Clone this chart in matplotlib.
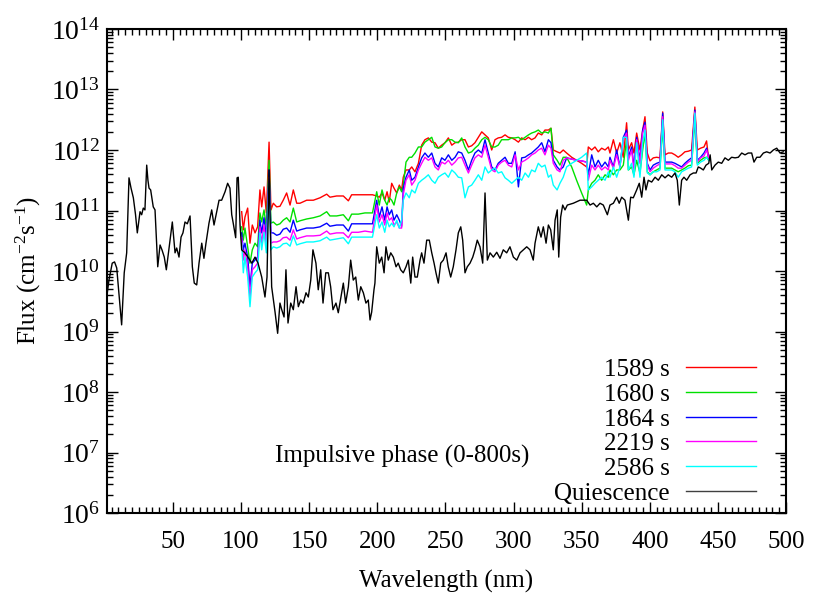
import numpy as np
import matplotlib
matplotlib.use('Agg')
import matplotlib.pyplot as plt
from matplotlib.ticker import MultipleLocator, FixedLocator, NullFormatter

plt.rcParams['font.family'] = ['Liberation Serif', 'DejaVu Serif']
plt.rcParams['mathtext.fontset'] = 'custom'
plt.rcParams['mathtext.rm'] = 'Liberation Serif'
plt.rcParams['mathtext.it'] = 'Liberation Serif:italic'

# quiescent spectrum: wavelength (nm) and log10 flux
quiet_nm = [1.65, 3.1, 5.5, 7.2, 8.8, 10.5, 12.4, 14.3, 16.1, 17.8, 19.3, 21.0, 22.6, 23.9, 25.9,
            27.1, 28.3, 29.5, 30.8, 31.7, 32.5, 33.7, 35.6, 36.9, 38.9, 40.6, 42.0, 43.7, 45.2, 47.2,
            49.6, 51.6, 52.8, 54.5, 56.0, 57.4, 58.9, 60.6, 62.6, 64.3, 65.7, 67.5, 69.2, 71.2, 72.8,
            74.3, 76.5, 78.5, 80.2, 82.2, 83.9, 85.8, 88.3, 90.2, 91.9, 93.2, 94.3, 96.1, 97.1, 98.0,
            99.3, 100.5, 102.9, 105.1, 107.9, 110.3, 112.5, 115.2, 117.6, 119.1, 120.6, 122.5, 125.0,
            126.9, 128.6, 129.9, 131.6, 133.0, 134.5, 136.5, 138.4, 140.4, 142.1, 143.8, 145.7, 147.7,
            149.4, 151.2, 152.8, 155.0, 156.7, 158.5, 160.2, 162.2, 164.1, 165.8, 167.5, 169.7, 171.4,
            173.4, 175.1, 176.8, 178.8, 180.5, 182.4, 184.2, 186.1, 187.9, 189.8, 191.7, 193.4, 194.7,
            195.9, 197.6, 198.3, 199.6, 201.5, 203.3, 205.0, 206.4, 208.1, 209.9, 211.8, 213.8, 215.4,
            217.2, 219.1, 221.1, 222.8, 224.6, 226.0, 227.7, 229.4, 231.4, 232.6, 234.3, 236.3, 238.2,
            240.0, 241.7, 243.1, 244.8, 246.6, 248.5, 250.5, 252.1, 253.9, 255.8, 257.8, 259.5, 261.3,
            262.7, 264.4, 266.1, 268.1, 270.1, 271.7, 273.4, 275.4, 277.4, 279.1, 280.8, 282.8, 285.2,
            287.7, 290.1, 292.5, 295.0, 297.4, 299.9, 302.4, 304.8, 307.2, 309.7, 312.1, 314.5, 315.8,
            318.2, 320.2, 321.9, 323.9, 325.6, 327.3, 329.2, 330.5, 332.1, 333.2, 334.6, 336.1, 337.8,
            339.5, 343.9, 348.8, 353.7, 356.2, 358.6, 361.1, 363.5, 365.9, 368.9, 370.8, 373.3, 375.7,
            377.6, 379.4, 381.8, 384.3, 386.0, 387.9, 390.4, 392.3, 394.1, 395.8, 397.2, 398.9, 401.4,
            403.9, 406.3, 408.8, 411.2, 413.6, 416.1, 418.5, 420.2, 421.7, 423.4, 425.1, 427.1, 429.6,
            432.0, 434.0, 435.6, 437.4, 439.3, 441.3, 443.3, 444.3, 445.5, 447.9, 450.3, 452.8, 455.2,
            457.7, 460.1, 462.6, 465.0, 467.5, 469.9, 472.3, 474.8, 476.5, 478.5, 480.9, 483.4, 485.8,
            488.3, 490.7, 493.2, 495.6, 498.0]
quiet_log = [9.60, 9.85, 10.13, 10.15, 10.05, 9.60, 9.11, 9.97, 10.30, 11.54, 11.37, 11.21, 10.93, 10.63, 10.98,
             10.93, 11.04, 11.01, 11.75, 11.50, 11.37, 11.34, 11.06, 11.01, 10.07, 10.43, 10.35, 10.23, 10.02, 10.38,
             10.81, 10.30, 10.38, 10.23, 10.56, 10.63, 10.81, 10.78, 10.91, 10.07, 9.80, 9.77, 10.13, 10.46, 10.21,
             10.46, 10.79, 11.01, 10.76, 10.98, 11.17, 11.17, 11.31, 11.45, 11.37, 10.93, 10.79, 10.55, 11.54, 11.55,
             10.76, 10.35, 10.30, 10.23, 10.13, 10.23, 10.13, 9.90, 9.57, 9.90, 11.67, 9.74, 9.32,
             8.97, 9.47, 9.36, 9.24, 10.02, 9.14, 9.47, 9.36, 9.74, 9.41, 9.52, 9.47, 9.64,
             9.57, 9.85, 10.35, 10.13, 9.69, 10.02, 9.47, 9.97, 9.97, 9.74, 9.36, 9.47, 9.31,
             9.57, 9.80, 9.47, 9.74, 10.18, 9.85, 9.90, 9.52, 9.74, 9.64, 9.47, 9.52, 9.19,
             9.32, 9.69, 9.80, 10.40, 10.13, 10.23, 9.97, 10.40, 10.18, 10.30, 10.23, 10.07, 10.13,
             10.02, 9.97, 10.07, 10.18, 9.80, 10.23, 9.90, 9.90, 10.18, 10.30, 10.13, 10.51, 10.51,
             10.30, 10.13, 9.97, 9.80, 10.13, 10.18, 10.30, 10.07, 9.90, 10.07, 10.35, 10.63, 10.73,
             10.51, 9.97, 10.07, 10.13, 10.23, 10.35, 10.51, 10.40, 10.13, 11.29, 10.18, 10.30, 10.23,
             10.31, 10.21, 10.35, 10.30, 10.40, 10.23, 10.18, 10.30, 10.35, 10.40, 10.35, 10.18, 10.46,
             10.73, 10.56, 10.73, 10.46, 10.76, 10.68, 10.35, 10.84, 11.01, 10.23, 10.89, 11.09, 11.01,
             11.09, 11.12, 11.17, 11.17, 11.09, 11.12, 11.06, 11.12, 11.09, 10.93, 11.09, 11.12, 11.22,
             11.12, 11.22, 11.17, 10.84, 11.22, 11.21, 11.34, 11.45, 11.22, 11.55, 11.34, 11.50, 11.47,
             11.55, 11.50, 11.59, 11.54, 11.59, 11.55, 11.62, 11.50, 11.09, 11.50, 11.55, 11.50, 11.59,
             11.62, 11.62, 11.72, 11.70, 11.67, 11.75, 11.78, 11.92, 11.67, 11.75, 11.80, 11.78, 11.87,
             11.83, 11.88, 11.87, 11.88, 11.95, 11.92, 11.95, 11.95, 11.80, 11.88, 11.88, 11.95, 11.97,
             11.95, 12.00, 12.03, 11.95, 11.97]

# flare spectra share one wavelength grid (nm), values are log10 flux
flare_nm = [100.5, 101.7, 102.9, 104.9, 106.6, 108.3, 110.3, 112.2, 113.9, 115.2, 116.9, 118.6, 120.6,
            122.0, 123.7, 126.2, 128.6, 131.0, 133.5, 136.0, 138.4, 140.9, 143.3, 148.2, 153.1, 158.0,
            162.9, 165.3, 170.2, 175.1, 178.8, 181.2, 186.1, 191.0, 196.5,
            199.6, 201.5, 203.5, 205.5, 207.2, 208.8, 210.6, 212.3, 214.3, 216.2, 217.9, 219.1, 221.1,
            223.5, 225.3, 227.7, 230.2, 232.6, 235.0, 237.5, 240.0, 242.4, 244.8, 247.3, 249.7, 252.2,
            254.7, 257.1, 259.5, 262.0, 264.4, 266.9, 269.3, 271.7, 274.2, 276.7, 279.1, 281.5, 284.0,
            286.4, 288.8, 291.3, 293.8, 296.2, 298.7, 301.2, 303.6, 306.0, 308.5, 311.0, 313.3, 315.8,
            318.2, 320.7, 323.1, 325.6, 327.5, 329.2, 332.0, 334.1, 336.5, 339.0, 342.7, 346.3, 350.0,
            353.7, 354.9, 357.4, 359.8, 362.2, 364.7, 367.2, 369.6, 370.8, 373.3, 375.7, 378.1, 380.6,
            383.0, 384.3, 386.7, 388.4, 390.4, 392.8, 394.8, 396.5, 398.2, 400.2, 402.6, 405.1, 407.5,
            409.5, 411.2, 413.6, 416.1, 418.5, 420.9, 423.4, 425.8, 428.3, 430.7, 433.1, 434.9, 437.3,
            439.8, 441.7, 443.3]

log_1589 = [10.98, 10.68, 10.89, 11.04, 10.46, 10.76, 10.63, 10.73, 11.34, 11.06, 11.39, 10.96, 12.13,
            11.01, 11.12, 11.06, 11.07, 11.17, 11.29, 11.09, 11.34, 11.12, 11.12, 11.17, 11.17, 11.21,
            11.27, 11.22, 11.24, 11.24, 11.16, 11.26, 11.26, 11.26, 11.26,
            11.24, 11.22, 11.29, 11.17, 11.31, 11.14, 11.45, 11.37, 11.29, 11.42, 11.34, 11.55, 11.67,
            11.67, 11.72, 11.64, 11.78, 12.08, 12.17, 12.20, 12.13, 12.12, 12.03, 12.08, 12.12, 12.20,
            12.08, 12.12, 12.13, 12.17, 12.17, 12.05, 12.07, 12.12, 12.21, 12.30, 12.25, 12.20, 12.00,
            12.17, 12.20, 12.21, 12.25, 12.21, 12.20, 12.17, 12.13, 12.20, 12.17, 12.21, 12.17, 12.20,
            12.28, 12.25, 12.33, 12.33, 12.36, 12.00, 11.97, 11.95, 12.00, 11.95, 11.88, 11.83, 11.78,
            11.72, 12.05, 12.00, 12.05, 11.97, 12.03, 12.00, 12.05, 11.95, 12.17, 11.95, 12.12, 11.88,
            12.45, 12.00, 12.12, 11.95, 12.28, 12.00, 12.33, 12.55, 11.95, 11.82, 11.87, 11.88, 11.87,
            12.63, 11.92, 11.95, 11.95, 11.92, 11.88, 11.92, 11.97, 11.98, 12.00, 12.71, 12.00, 12.03,
            12.05, 12.15, 11.83]

log_1680 = [10.73, 10.51, 10.71, 10.40, 10.13, 10.35, 10.46, 10.40, 10.96, 10.81, 11.01, 10.73, 11.83,
            10.79, 10.81, 10.76, 10.78, 10.84, 10.88, 10.81, 11.04, 10.81, 10.83, 10.86, 10.88, 10.91,
            10.98, 10.91, 10.91, 10.93, 10.83, 10.94, 10.94, 10.96, 10.96,
            11.31, 11.09, 11.34, 11.17, 11.09, 11.21, 11.17, 11.09, 11.29, 11.39, 11.31, 11.42, 11.80,
            11.88, 11.88, 11.95, 12.05, 12.05, 12.13, 12.17, 12.21, 12.05, 12.03, 12.05, 12.12, 12.17,
            12.17, 12.13, 12.12, 12.20, 12.05, 11.95, 11.97, 12.03, 12.08, 12.17, 12.21, 12.17, 12.05,
            12.05, 12.08, 12.17, 12.17, 12.17, 12.20, 12.20, 12.21, 12.17, 12.21, 12.25, 12.28, 12.30,
            12.33, 12.28, 12.30, 12.28, 12.36, 11.92, 11.83, 11.75, 11.88, 11.88, 11.72, 11.50, 11.29,
            11.09, 11.34, 11.45, 11.50, 11.59, 11.50, 11.59, 11.55, 11.67, 11.59, 11.67, 11.67, 11.75,
            12.17, 11.67, 11.72, 11.59, 11.83, 11.62, 12.00, 12.28, 11.64, 11.59, 11.64, 11.67, 11.70,
            12.38, 11.70, 11.70, 11.70, 11.67, 11.64, 11.67, 11.70, 11.74, 11.75, 12.50, 11.78, 11.83,
            11.87, 11.88, 11.83]

log_1864 = [10.63, 10.35, 10.46, 10.23, 9.74, 10.13, 10.18, 10.23, 10.84, 10.63, 10.88, 10.56, 11.67,
            10.63, 10.63, 10.59, 10.61, 10.69, 10.71, 10.64, 10.84, 10.66, 10.68, 10.71, 10.71, 10.73,
            10.79, 10.74, 10.76, 10.76, 10.66, 10.78, 10.78, 10.78, 10.78,
            11.17, 10.89, 11.06, 10.84, 11.06, 10.93, 11.01, 10.84, 10.93, 10.84, 10.74, 11.37, 11.55,
            11.67, 11.50, 11.55, 11.72, 11.87, 11.95, 11.88, 11.95, 11.78, 11.72, 11.87, 11.83, 11.92,
            11.83, 11.88, 11.97, 11.95, 11.83, 11.67, 11.83, 11.95, 12.00, 11.95, 12.17, 11.95, 11.72,
            11.67, 11.78, 11.83, 11.88, 11.78, 11.78, 11.97, 11.39, 11.87, 11.88, 11.92, 11.95, 12.00,
            12.05, 12.12, 11.97, 12.17, 12.12, 11.83, 11.72, 11.67, 11.72, 11.87, 11.85, 11.83, 11.82,
            11.80, 11.59, 11.92, 11.72, 11.83, 11.72, 11.80, 11.72, 11.88, 11.72, 12.00, 11.72, 12.21,
            12.33, 11.88, 12.05, 11.72, 12.21, 11.83, 12.33, 12.46, 11.78, 11.67, 11.75, 11.78, 11.80,
            12.61, 11.80, 11.80, 11.80, 11.78, 11.75, 11.72, 11.78, 11.83, 11.87, 12.66, 11.83, 11.88,
            11.95, 12.03, 11.87]

log_2219 = [10.55, 10.18, 10.35, 10.07, 9.57, 10.02, 10.07, 10.13, 10.73, 10.46, 10.76, 10.40, 11.55,
            10.46, 10.48, 10.48, 10.50, 10.55, 10.56, 10.51, 10.68, 10.53, 10.55, 10.58, 10.58, 10.59,
            10.66, 10.61, 10.63, 10.63, 10.55, 10.64, 10.64, 10.66, 10.64,
            11.09, 10.81, 10.93, 10.76, 10.96, 10.84, 10.88, 10.76, 10.81, 10.71, 10.71, 11.26, 11.50,
            11.59, 11.42, 11.50, 11.67, 11.78, 11.88, 11.83, 11.87, 11.72, 11.67, 11.80, 11.77, 11.83,
            11.75, 11.80, 11.87, 11.88, 11.75, 11.62, 11.75, 11.87, 11.92, 11.88, 12.08, 11.88, 11.67,
            11.64, 11.75, 11.80, 11.83, 11.75, 11.72, 11.92, 11.67, 11.80, 11.83, 11.87, 11.92, 11.95,
            12.00, 12.03, 11.92, 12.08, 12.03, 11.78, 11.67, 11.64, 11.83, 11.87, 11.85, 11.83, 11.82,
            11.80, 11.50, 11.75, 11.67, 11.75, 11.67, 11.72, 11.67, 11.83, 11.70, 11.92, 11.72, 12.17,
            12.28, 11.83, 12.00, 11.67, 12.17, 11.78, 12.28, 12.41, 11.75, 11.64, 11.70, 11.74, 11.77,
            12.55, 11.77, 11.77, 11.77, 11.74, 11.70, 11.70, 11.75, 11.80, 11.83, 12.63, 11.80, 11.87,
            11.90, 12.00, 11.87]

log_2586 = [10.46, 9.97, 10.23, 9.90, 9.41, 9.90, 9.97, 10.02, 10.63, 10.35, 10.64, 10.30, 11.45,
            10.35, 10.40, 10.38, 10.40, 10.45, 10.46, 10.41, 10.58, 10.43, 10.45, 10.48, 10.48, 10.50,
            10.56, 10.51, 10.53, 10.55, 10.45, 10.56, 10.56, 10.56, 10.56,
            10.93, 10.71, 10.81, 10.64, 10.84, 10.73, 10.79, 10.73, 10.84, 10.71, 10.84, 11.17, 11.29,
            11.21, 11.34, 11.29, 11.45, 11.50, 11.54, 11.59, 11.50, 11.45, 11.55, 11.59, 11.62, 11.55,
            11.67, 11.62, 11.55, 11.54, 11.21, 11.39, 11.42, 11.50, 11.59, 11.50, 11.72, 11.62, 11.67,
            11.70, 11.62, 11.64, 11.54, 11.50, 11.45, 11.50, 11.55, 11.50, 11.62, 11.55, 11.67, 11.64,
            11.78, 11.72, 11.75, 11.55, 11.59, 11.42, 11.34, 11.45, 11.55, 11.72, 11.78, 11.83, 11.88,
            11.95, 11.34, 11.39, 11.45, 11.50, 11.55, 11.50, 11.64, 11.55, 11.72, 11.55, 11.72, 12.21,
            12.21, 11.67, 11.78, 11.55, 12.12, 11.55, 12.12, 12.33, 11.62, 11.59, 11.64, 11.64, 11.67,
            12.50, 11.67, 11.67, 11.67, 11.64, 11.55, 11.64, 11.67, 11.70, 11.72, 12.61, 11.75, 11.80,
            11.83, 11.88, 11.83]

labels = ['1589 s', '1680 s', '1864 s', '2219 s', '2586 s']
series = [log_1589, log_1680, log_1864, log_2219, log_2586]
colors = ['#ff0000', '#00e000', '#0000ff', '#ff00ff', '#00ffff']
x_ticks = [50, 100, 150, 200, 250, 300, 350, 400, 450, 500]
y_decades = [1e6, 1e7, 1e8, 1e9, 1e10, 1e11, 1e12, 1e13, 1e14]

fig = plt.figure(figsize=(8.3, 5.93), dpi=100)
ax = fig.add_axes([0.1289, 0.1349, 0.8181, 0.8162])

for lab, vals, c in zip(labels, series, colors):
    ax.plot(flare_nm, 10.0 ** np.array(vals), color=c, lw=1.0)
ax.plot(quiet_nm, 10.0 ** np.array(quiet_log), color='black', lw=1.0)

ax.set_yscale('log')
ax.set_xlim(1.65, 500)
ax.set_ylim(1e6, 1e14)
ax.set_xticks(x_ticks)
ax.xaxis.set_minor_locator(MultipleLocator(5))
ax.set_yticks(y_decades)
minor_y = [m * d for d in y_decades[:-1] for m in range(2, 10)]
ax.yaxis.set_minor_locator(FixedLocator(minor_y))
ax.yaxis.set_minor_formatter(NullFormatter())
ax.set_ylim(1e6, 1e14)

ax.tick_params(which='both', direction='in', top=True, right=True, width=1.0)
ax.tick_params(which='major', length=8)
ax.tick_params(which='minor', length=4)
ax.tick_params(axis='x', labelsize=18, pad=13)
ax.tick_params(axis='y', labelsize=20, pad=5)
for sp in ax.spines.values():
    sp.set_linewidth(1.5)

ax.set_xlabel('Wavelength (nm)', fontsize=18, labelpad=12)
ax.set_ylabel('Flux (cm$^{-2}$s$^{-1}$)', fontsize=18, labelpad=6)

ax.text(0.2474, 0.1033, 'Impulsive phase (0-800s)', transform=ax.transAxes,
        fontsize=18, ha='left', va='baseline')

# key in the lower right, labels right-aligned in front of the line samples
key_labels = labels + ['Quiescence']
key_colors = colors + ['#404040']
row_y = [0.3017, 0.2500, 0.1983, 0.1488, 0.0971, 0.0455]
for lab, c, y in zip(key_labels, key_colors, row_y):
    ax.plot([0.853, 0.956], [y, y], color=c, lw=1.0, transform=ax.transAxes)
    ax.text(0.829, y - 0.0186, lab, transform=ax.transAxes, fontsize=18,
            ha='right', va='baseline')

fig.savefig('out.png', dpi=100)
